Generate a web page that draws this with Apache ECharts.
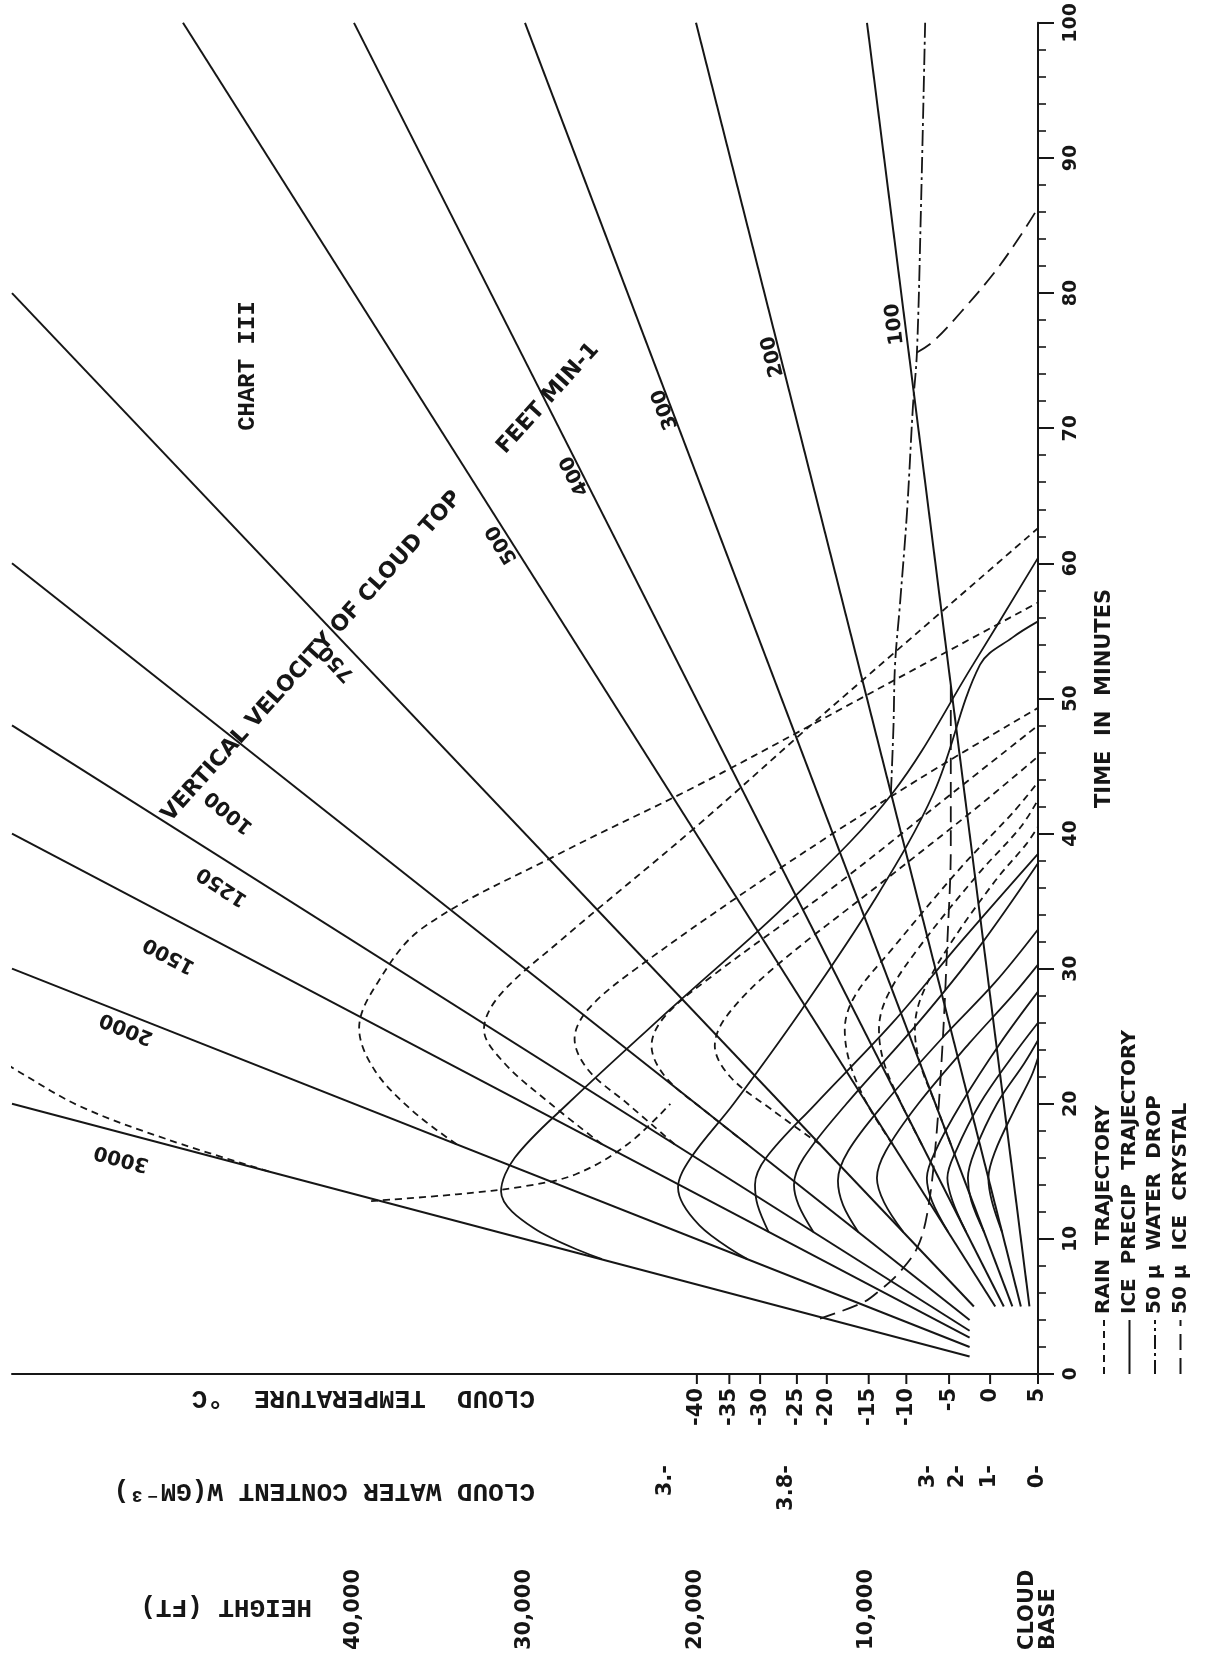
<!DOCTYPE html>
<html>
<head>
<meta charset="utf-8">
<title>Chart III</title>
<script src="https://cdn.jsdelivr.net/npm/echarts@6/dist/echarts.min.js"></script>
<style>
  html, body { margin: 0; padding: 0; background: #ffffff; }
  #chart { width: 1209px; height: 1660px; }
</style>
</head>
<body>
<div id="chart"></div>
<script>
// ---------- axis scales ----------
const heightTickFt   = [0, 10000, 20000, 30000, 40000];
const heightTickText = ['CLOUD\nBASE', '10,000', '20,000', '30,000', '40,000'];
const tempTickFt     = [0, 2800, 5200, 7700, 9900, 12350, 14100, 16250, 18050, 19950];
const tempTickText   = ['5', '0', '-5', '-10', '-15', '-20', '-25', '-30', '-35', '-40'];
const waterTickFt    = [0, 2820, 4680, 6430, 14680, 21800];
const waterTickText  = ['0-', '1-', '2-', '3-', '3.8-', '3.-'];

// ---------- cloud-top lines (feet per minute) ----------
const topSpeeds   = [100, 200, 300, 400, 500, 750, 1000, 1250, 1500, 2000, 3000];
const topStartMin = [5, 5, 5, 5, 5, 5, 4, 3.2, 2.7, 2, 1.3];
const topStartFt  = [500, 1000, 1500, 2000, 2500, 3750, 4000, 4000, 4000, 4000, 4000];
const topEndMin   = [100, 100, 100, 100, 100, 80, 60, 48, 40, 30, 20];
const topEndFt    = [10000, 20000, 30000, 40000, 50000, 60000, 60000, 60000, 60000, 60000, 60000];

// labels written beside each cloud-top line: [minutes, feet]
const speedLabelText = ['100', '200', '300', '400', '500', '750', '1000', '1250', '1500', '2000', '3000'];
const speedLabelMin  = [77.7, 75.3, 71.4, 66.5, 61.4, 52.6, 41.6, 36.1, 31.0, 25.6, 16.0];
const speedLabelFt   = [8360, 15500, 21810, 27080, 31340, 41000, 47300, 47700, 50800, 53300, 53600];
const speedLabelRot  = [97, 104, 111, 117, 122, 133, 141, 147, 152, 158, 165];

// headings inside the plot: [minutes, feet]
const noteText = ['VERTICAL VELOCITY OF CLOUD TOP', 'FEET MIN-1', 'CHART III'];
const noteMin  = [53.1, 72.2, 74.6];
const noteFt   = [42460, 28650, 46200];
const noteRot  = [48, 48, 90];

// ---------- rain trajectories: [feet, minutes] ----------
const rain3000 = [[45000, 15], [51000, 17.4], [56000, 19.8], [59500, 22.3], [61000, 23.5]];
const rain2000 = [[34000, 17], [36600, 19.5], [38800, 22.5], [39700, 25.6], [38600, 29], [36000, 33],
                  [28000, 38.5], [20000, 43.5], [13300, 48], [6725, 52.5], [0, 57.1]];
const rain1500 = [[25500, 17], [28500, 20], [31200, 23], [32400, 25.5], [31500, 28], [28000, 32],
                  [20000, 40.5], [13300, 48], [8480, 53.3], [0, 62.6]];
const rain1250 = [[21250, 17], [24000, 20], [26300, 22.5], [27100, 24.8], [26300, 27], [23500, 30],
                  [15000, 37.5], [7000, 44], [0, 49.3]];
const rain1000 = [[17000, 17], [19500, 19.5], [21800, 22], [22600, 24.3], [21800, 26.5], [19000, 29.5],
                  [12000, 36], [5000, 43], [0, 48.0]];
const rain750  = [[12750, 17], [15500, 19.5], [18000, 22], [18900, 24.3], [18200, 26.5], [15500, 30],
                  [9000, 36.5], [3500, 42], [0, 45.7]];
const rain500  = [[8500, 17], [10000, 20], [11000, 23], [11300, 25.5], [10700, 28], [8500, 31.5],
                  [4500, 37.5], [1500, 41.5], [0, 43.8]];
const rain400  = [[6800, 17], [8000, 20], [9000, 23], [9300, 25.5], [8800, 28], [7000, 31.5],
                  [3500, 37], [1000, 40.5], [0, 42.5]];
const rain300  = [[5100, 17], [6000, 20], [6900, 23], [7200, 25.5], [6800, 28], [5300, 31.5],
                  [2500, 36.5], [700, 39.2], [0, 40.5]];
const rainTop  = [[39000, 12.8], [34000, 13.3], [30000, 13.9], [27000, 14.8], [24000, 17], [21500, 20]];

// ---------- ice precipitation trajectories: [feet, minutes] ----------
const ice3000 = [[25500, 8.5], [29500, 10.8], [31400, 13.5], [30600, 16], [27500, 20], [21500, 27],
                 [14500, 35], [8500, 43], [3800, 52.5], [0, 60.4]];
const ice2000 = [[17000, 8.5], [19800, 11], [21050, 13.8], [20300, 16], [17800, 20], [13800, 27],
                 [9600, 35], [6100, 43], [3390, 52.5], [1500, 54.5], [0, 55.7]];
const ice1500 = [[15750, 10.5], [16400, 12.5], [16550, 14], [15900, 16], [13000, 20], [8500, 26],
                 [4500, 32], [0, 38.5]];
const ice1250 = [[13125, 10.5], [14000, 12.5], [14270, 14], [13700, 16], [11200, 20], [7000, 26],
                 [3500, 31.5], [0, 37.8]];
const ice1000 = [[10500, 10.5], [11400, 12.5], [11700, 14.3], [11100, 16.5], [9000, 20], [5500, 25],
                 [2500, 29], [0, 32.9]];
const ice750  = [[7875, 10.5], [9000, 12.7], [9420, 14.5], [8900, 16.5], [7000, 20], [4000, 24.5],
                 [1500, 28], [0, 30.3]];
const ice500  = [[5250, 10.5], [6200, 12.8], [6500, 14.5], [6000, 16.5], [4500, 20], [2200, 24.5], [0, 28.3]];
const ice400  = [[4200, 10.5], [5000, 12.8], [5300, 14.5], [4800, 16.5], [3400, 20], [1500, 23.5], [0, 26.0]];
const ice300  = [[3150, 10.5], [3900, 12.8], [4100, 14.5], [3700, 16.5], [2400, 20], [800, 23], [0, 24.7]];
const ice200  = [[2100, 10.5], [2700, 12.8], [2900, 14.5], [2500, 16.5], [1400, 19.5], [400, 22], [0, 23.4]];

// ---------- 50 micron particles: [feet, minutes] ----------
const crystalPath = [[12750, 4.1], [10230, 5.3], [9240, 6.2], [8190, 7.4], [7080, 9.3], [6490, 11.8],
                     [6020, 16.5], [5600, 24], [5300, 32], [5100, 39], [5100, 51]];
const crystalFall = [[7080, 75.6], [6140, 76.4], [4500, 78.6], [2500, 81.6], [1000, 84.3], [0, 86.3]];
const dropPath    = [[8600, 43], [8450, 48], [8360, 52.5], [8070, 57], [7660, 63.8], [7310, 71.7],
                     [7080, 75.6], [6850, 86], [6600, 100]];

const INK = '#161616';
const NUM_FONT = 'bold 21px "DejaVu Sans", "Liberation Sans", sans-serif';

const chart = echarts.init(document.getElementById('chart'), null, { renderer: 'canvas' });

function textEl(x, y, text, rotDeg, font, align, vAlign) {
  return {
    type: 'text', x: x, y: y, rotation: rotDeg * Math.PI / 180,
    style: {
      text: text, font: font, fill: INK,
      align: align, verticalAlign: vAlign,
      textAlign: align, textVerticalAlign: vAlign
    }
  };
}

// one row of labels under the height axis
function rowSeries(name, fts, texts, dy, tickLen, font, align) {
  return {
    type: 'custom', name: name, silent: true, clip: false, z: 5,
    data: fts.map((f, i) => [f, 0, i]),
    renderItem: function (params, api) {
      const i = params.dataIndex;
      const p = api.coord([api.value(0), 0]);
      const kids = [];
      if (tickLen) {
        kids.push({ type: 'line', shape: { x1: p[0], y1: p[1], x2: p[0], y2: p[1] + tickLen },
                    style: { stroke: INK, lineWidth: 2 } });
      }
      kids.push(textEl(p[0], p[1] + dy, texts[i], 90, font, align, 'middle'));
      return { type: 'group', children: kids };
    }
  };
}

// labels placed in data space
function noteSeries(name, mins, fts, texts, rots, font) {
  return {
    type: 'custom', name: name, silent: true, clip: false, z: 6,
    data: mins.map((m, i) => [fts[i], m, i]),
    renderItem: function (params, api) {
      const i = params.dataIndex;
      const p = api.coord([api.value(0), api.value(1)]);
      return textEl(p[0], p[1], texts[i], rots[i], font, 'center', 'middle');
    }
  };
}

function path(name, data, dash, width) {
  return {
    type: 'line', name: name, silent: true, symbol: 'none', smooth: 0.35, animation: false,
    data: data, lineStyle: { color: INK, width: width || 1.8, type: dash || 'solid' }
  };
}

const RAIN_DASH = [7, 5];
const CRYSTAL_DASH = [16, 8];
const DROP_DASH = [16, 4, 3, 4];

const series = [];

topSpeeds.forEach((v, i) => {
  series.push(path(v + ' ft/min', [[topStartFt[i], topStartMin[i]], [topEndFt[i], topEndMin[i]]], null, 2));
});

[rain3000, rain2000, rain1500, rain1250, rain1000, rain750, rain500, rain400, rain300, rainTop]
  .forEach((d, i) => series.push(path('rain ' + i, d, RAIN_DASH)));
[ice3000, ice2000, ice1500, ice1250, ice1000, ice750, ice500, ice400, ice300, ice200]
  .forEach((d, i) => series.push(path('ice ' + i, d, null)));
series.push(path('50 μ ice crystal', crystalPath, CRYSTAL_DASH));
series.push(path('50 μ ice crystal fall', crystalFall, CRYSTAL_DASH));
series.push(path('50 μ water drop', dropPath, DROP_DASH));

series.push(rowSeries('temperature', tempTickFt, tempTickText, 14, 10, NUM_FONT, 'right'));
series.push(rowSeries('water', waterTickFt, waterTickText, 91, 0, NUM_FONT, 'right'));
series.push(rowSeries('height', heightTickFt, heightTickText, 276, 0, NUM_FONT, 'left'));
series.push(noteSeries('speed labels', speedLabelMin, speedLabelFt, speedLabelText, speedLabelRot,
  'bold 20px "DejaVu Sans", sans-serif'));
series.push(noteSeries('headings', noteMin.slice(0, 2), noteFt.slice(0, 2), noteText.slice(0, 2), noteRot.slice(0, 2),
  'bold 22px "DejaVu Sans", sans-serif'));
series.push(noteSeries('chart title', noteMin.slice(2), noteFt.slice(2), noteText.slice(2), noteRot.slice(2),
  'bold 24px "Liberation Mono", monospace'));

// legend, drawn as a group turned a quarter turn
const legendStyles = [
  { text: 'RAIN  TRAJECTORY', dash: RAIN_DASH },
  { text: 'ICE  PRECIP  TRAJECTORY', dash: null },
  { text: '50 μ  WATER  DROP', dash: [14, 4, 3, 4] },
  { text: '50 μ  ICE  CRYSTAL', dash: [16, 8] }
];
const legendKids = [];
legendStyles.forEach((s, i) => {
  legendKids.push({ type: 'line', shape: { x1: 0, y1: i * 25.5, x2: 54, y2: i * 25.5 },
    style: { stroke: INK, lineWidth: 2, lineDash: s.dash } });
  legendKids.push({ type: 'text', x: 60, y: i * 25.5,
    style: { text: s.text, font: 'bold 20px "DejaVu Sans", sans-serif', fill: INK,
             align: 'left', verticalAlign: 'middle', textAlign: 'left', textVerticalAlign: 'middle' } });
});

const titleFont = 'bold 26px "Liberation Mono", "DejaVu Sans Mono", monospace';
function flipTitle(x, y, text) {
  return { type: 'text', x: x, y: y, rotation: Math.PI,
    style: { text: text, font: titleFont, fill: INK, align: 'left', verticalAlign: 'middle',
             textAlign: 'left', textVerticalAlign: 'middle' } };
}

chart.setOption({
  animation: false,
  backgroundColor: '#ffffff',
  grid: { left: 12, right: 171, top: 15, bottom: 286 },
  xAxis: {
    type: 'value', min: 0, max: 60000, inverse: true, position: 'bottom',
    axisLine: { show: true, lineStyle: { color: INK, width: 2 } },
    axisTick: { show: false }, axisLabel: { show: false }, splitLine: { show: false }
  },
  yAxis: {
    type: 'value', min: 0, max: 100, interval: 10, position: 'right',
    name: 'TIME  IN  MINUTES', nameLocation: 'middle', nameRotate: 90, nameGap: 56,
    nameTextStyle: { color: INK, fontSize: 21, fontWeight: 'bold', fontFamily: 'DejaVu Sans' },
    axisLine: { show: true, lineStyle: { color: INK, width: 2 } },
    axisTick: { show: true, inside: false, length: 16, lineStyle: { color: INK, width: 2 } },
    minorTick: { show: true, splitNumber: 5, length: 8, lineStyle: { color: INK, width: 1.6 } },
    splitLine: { show: false },
    axisLabel: { rotate: 90, margin: 24, color: INK, fontSize: 19, fontWeight: 'bold', fontFamily: 'DejaVu Sans' }
  },
  graphic: [
    { type: 'group', x: 1104, y: 1374, rotation: Math.PI / 2, children: legendKids },
    flipTitle(535, 1398, 'CLOUD  TEMPERATURE  °C'),
    flipTitle(535, 1491, 'CLOUD WATER CONTENT W(GM⁻³)'),
    flipTitle(312, 1607, 'HEIGHT (FT)')
  ],
  series: series
});
</script>
</body>
</html>
